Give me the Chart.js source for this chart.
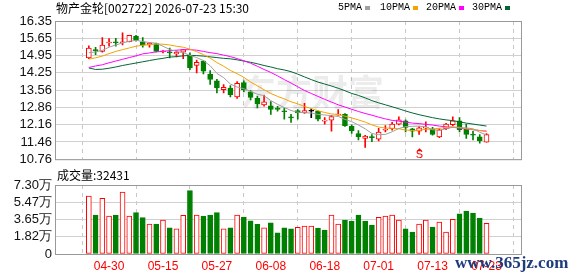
<!DOCTYPE html>
<html><head><meta charset="utf-8">
<script src="https://cdn.jsdelivr.net/npm/chart.js@4.4.1/dist/chart.umd.min.js"></script>
<style>
body{margin:0;background:#fff;}
#wrap{position:relative;width:578px;height:276px;overflow:hidden;background:#fff;}
canvas{position:absolute;left:0;}
.t{position:absolute;white-space:nowrap;line-height:14px;}
.sq{position:absolute;width:5px;height:4px;}
</style></head>
<body><div id="wrap">
<canvas id="k" width="578" height="170" style="top:0"></canvas>
<canvas id="v" width="578" height="106" style="top:170px"></canvas>
<div class="t" style="left:56px;top:1px;font-size:12px;font-family:'Noto Sans CJK SC';color:#000">物产金轮[002722] 2026-07-23 15:30</div>
<div class="t" style="left:338px;top:1px;font-size:10px;font-family:'Liberation Mono';color:#000">5PMA</div>
<div class="sq" style="left:365px;top:6px;background:#a0a0a0"></div>
<div class="t" style="left:380px;top:1px;font-size:10px;font-family:'Liberation Mono';color:#000">10PMA</div>
<div class="sq" style="left:413px;top:6px;background:#f5a300"></div>
<div class="t" style="left:426px;top:1px;font-size:10px;font-family:'Liberation Mono';color:#000">20PMA</div>
<div class="sq" style="left:459px;top:6px;background:#ff00ff"></div>
<div class="t" style="left:472px;top:1px;font-size:10px;font-family:'Liberation Mono';color:#000">30PMA</div>
<div class="sq" style="left:505px;top:6px;background:#006633"></div>
<div class="t" style="left:57px;top:168px;font-size:12px;font-family:'Noto Sans CJK SC';color:#000">成交量:32431</div>
<div class="t" style="left:455px;top:254px;font-size:17px;line-height:18px;font-weight:bold;font-family:'Liberation Serif';color:#1f3c7c">www.365jz.com</div>
</div>
<script>
const dates = ['04-27','04-28','04-29','04-30','05-06','05-07','05-08','05-09','05-12','05-13','05-14','05-15','05-16','05-19','05-20','05-21','05-22','05-23','05-26','05-27','05-28','05-29','05-30','06-03','06-04','06-05','06-06','06-08','06-09','06-10','06-11','06-12','06-13','06-16','06-17','06-18','06-19','06-20','06-23','06-24','06-25','06-26','06-27','07-01','07-02','07-03','07-04','07-07','07-08','07-09','07-10','07-13','07-14','07-15','07-16','07-17','07-18','07-21','07-22','07-23'];
const open  = [14.86,15.17,15.12,15.46,15.49,15.47,15.51,15.74,15.51,15.38,15.44,15.10,15.08,15.02,15.09,14.96,14.55,14.73,14.19,13.93,13.57,13.64,13.28,13.86,13.48,13.22,12.96,12.92,12.83,12.70,12.45,12.73,12.63,12.70,12.70,12.30,12.34,12.54,12.57,12.09,11.80,11.60,11.65,11.57,11.93,11.99,12.18,12.31,11.99,11.89,12.02,11.99,11.66,11.99,12.16,12.31,11.99,11.74,11.66,11.45];
const high  = [15.35,15.29,15.68,15.64,15.65,15.87,15.77,15.77,15.68,15.48,15.46,15.15,15.25,15.14,15.20,15.06,14.77,14.75,14.34,13.99,13.78,13.74,13.90,13.93,13.54,13.31,13.35,13.09,12.90,12.83,12.57,12.77,13.02,12.79,12.72,12.44,12.53,12.77,12.61,12.15,11.92,11.73,11.76,12.01,12.12,12.25,12.47,12.35,12.01,12.08,12.27,12.05,11.99,12.21,12.47,12.44,12.18,11.89,11.76,11.80];
const low   = [14.83,14.99,15.09,15.33,15.33,15.38,15.50,15.53,15.29,15.29,15.10,15.06,14.86,14.90,14.83,14.38,14.25,14.21,13.78,13.44,13.44,13.28,13.22,13.48,13.16,12.83,12.90,12.57,12.70,12.38,12.25,12.38,12.61,12.44,12.31,12.18,11.89,12.54,12.09,11.80,11.54,11.24,11.47,11.50,11.86,11.93,12.15,11.86,11.66,11.76,11.86,11.73,11.63,11.95,12.12,11.86,11.60,11.54,11.41,11.45];
const close = [15.25,15.15,15.38,15.48,15.47,15.49,15.77,15.57,15.38,15.45,15.12,15.13,15.06,15.08,15.19,14.45,14.68,14.32,13.99,13.64,13.67,13.37,13.83,13.57,13.26,13.00,13.08,12.77,12.77,12.68,12.43,12.63,12.73,12.70,12.38,12.32,12.48,12.56,12.12,11.90,11.66,11.70,11.63,11.86,11.96,12.18,12.35,12.05,11.89,12.03,12.04,11.76,11.95,12.18,12.31,11.95,11.76,11.73,11.51,11.76];
const ma5   = [15.07,15.10,15.16,15.29,15.38,15.46,15.53,15.57,15.52,15.48,15.45,15.33,15.20,15.12,15.07,14.96,14.87,14.75,14.54,14.23,14.06,13.80,13.68,13.61,13.50,13.39,13.33,13.13,12.98,12.85,12.73,12.66,12.64,12.63,12.57,12.55,12.52,12.49,12.37,12.28,12.14,11.99,11.80,11.75,11.76,11.87,12.00,12.08,12.09,12.10,12.07,11.95,11.93,11.99,12.05,12.03,12.03,11.99,11.85,11.74];
const ma10  = [14.81,14.86,14.93,15.03,15.12,15.19,15.26,15.33,15.37,15.39,15.42,15.41,15.38,15.33,15.29,15.21,15.11,14.99,14.85,14.67,14.52,14.35,14.22,14.07,13.88,13.73,13.57,13.42,13.30,13.20,13.08,13.00,12.89,12.81,12.72,12.65,12.59,12.57,12.50,12.43,12.35,12.26,12.15,12.06,12.02,12.01,11.99,11.94,11.92,11.93,11.97,11.98,12.01,12.04,12.07,12.05,11.99,11.96,11.92,11.90];
const ma20  = [14.47,14.53,14.58,14.66,14.73,14.80,14.87,14.94,15.02,15.06,15.10,15.12,15.15,15.17,15.19,15.19,15.17,15.12,15.07,15.03,14.97,14.91,14.83,14.74,14.64,14.52,14.39,14.27,14.13,13.98,13.84,13.69,13.54,13.42,13.30,13.18,13.07,12.96,12.87,12.78,12.69,12.61,12.54,12.46,12.39,12.33,12.30,12.26,12.22,12.20,12.17,12.14,12.10,12.07,12.05,12.02,11.98,11.95,11.92,11.89];
const ma30  = [14.45,14.39,14.40,14.44,14.49,14.55,14.60,14.65,14.70,14.75,14.80,14.84,14.89,14.91,14.94,14.96,14.95,14.93,14.90,14.87,14.84,14.82,14.78,14.73,14.68,14.62,14.55,14.49,14.42,14.37,14.30,14.20,14.09,13.98,13.88,13.80,13.72,13.63,13.53,13.42,13.34,13.24,13.13,13.04,12.96,12.88,12.80,12.71,12.63,12.56,12.50,12.44,12.39,12.35,12.32,12.27,12.22,12.18,12.14,12.10];
const volume = [61400,41300,58900,40200,41300,65600,40200,43700,38400,31700,31700,36000,27800,26500,40900,67000,41300,40200,41300,43700,26500,27800,41300,39100,35200,31400,27800,33100,22500,27800,26500,28200,29600,29600,27500,25400,41300,31700,36000,34900,41300,34900,30700,38800,40200,41300,36000,26500,23300,31700,36000,28600,33900,23300,36700,42600,45500,43400,38100,32431];
const volUp = [1,0,1,1,0,1,1,0,0,1,0,1,0,1,1,0,1,0,0,0,1,0,1,0,0,0,1,0,0,0,0,1,1,1,0,0,1,1,0,0,0,0,0,1,1,1,1,0,0,1,1,0,1,1,1,0,0,0,0,1];
const priceTicks = [10.76,11.45875,12.1575,12.85625,13.555,14.25375,14.9525,15.65125,16.35];
const priceTickLabels = ['10.76','11.46','12.16','12.86','13.56','14.25','14.95','15.65','16.35'];
const volTicks = [0,18250,36500,54750,73000];
const volTickLabels = ['0','1.82万','3.65万','5.47万','7.30万'];
const xTickIdx = [3,11,19,27,35,43,51,59];
const xTickLabels = ['04-30','05-15','05-27','06-08','06-18','07-01','07-13','07-23'];
const signals = [{i:49, text:'S'}];

const RED='#ff0000', GREEN='#008000', GRID='#d0d0d0', FRAME='#999999';
const idx = dates.map((d,i)=>i);
const candleColor = i => close[i]>open[i] ? RED : (close[i]<open[i] ? GREEN : '#000000');
const XMIN=-0.7, XMAX=59.8;

const frame = {id:'frame', afterDraw(c){const a=c.chartArea,x=c.ctx;x.save();x.strokeStyle=FRAME;x.lineWidth=1;x.strokeRect(a.left+0.5,a.top+0.5,a.right-a.left,a.bottom-a.top);x.restore();}};
const wm = {id:'wm', beforeDatasetsDraw(c){const x=c.ctx;x.save();x.fillStyle='rgba(0,0,0,0.075)';x.font="bold 36px 'Noto Sans CJK SC'";x.textBaseline='middle';x.fillText('东方财富',240,92);x.restore();}};
const sig = {id:'sig', afterDatasetsDraw(c){const x=c.ctx,s=c.scales.x,a=c.chartArea;x.save();x.fillStyle=RED;
  signals.forEach(g=>{const px=Math.round(s.getPixelForValue(g.i))+0.5;x.beginPath();x.moveTo(px,a.bottom-11);x.lineTo(px-3,a.bottom-8);x.lineTo(px+3,a.bottom-8);x.closePath();x.fill();
  x.font="11px 'Liberation Sans'";x.textAlign='center';x.textBaseline='bottom';x.fillText(g.text,px,a.bottom+1);});x.restore();}};

const xScale = (showLabels)=>({type:'linear',min:XMIN,max:XMAX,
  afterBuildTicks:s=>{s.ticks=xTickIdx.map(v=>({value:v}));},
  ticks:{display:showLabels,autoSkip:false,maxRotation:0,color:RED,font:{family:'Liberation Sans',size:12},padding:5,
    callback:(v,i)=>xTickLabels[i]},
  grid:{color:'#c8c8c8',drawTicks:false},
  border:{display:false,dash:[4,4]},
  afterFit:s=>{s.height=showLabels?22:0;}});

Chart.defaults.animation=false;
new Chart(document.getElementById('k'),{
  type:'bar',
  data:{datasets:[
    {type:'line',label:'5PMA',data:idx.map(i=>({x:i,y:ma5[i]})),borderColor:'#a0a0a0',borderWidth:1,pointRadius:0,order:0},
    {type:'line',label:'10PMA',data:idx.map(i=>({x:i,y:ma10[i]})),borderColor:'#f5a300',borderWidth:1,pointRadius:0,order:0},
    {type:'line',label:'20PMA',data:idx.map(i=>({x:i,y:ma20[i]})),borderColor:'#ff00ff',borderWidth:1,pointRadius:0,order:0},
    {type:'line',label:'30PMA',data:idx.map(i=>({x:i,y:ma30[i]})),borderColor:'#006633',borderWidth:1,pointRadius:0,order:0},
    {type:'bar',label:'body',data:idx.map(i=>({x:i,y:[open[i],close[i]]})),grouped:false,barThickness:5,minBarLength:1,
      backgroundColor:idx.map(i=>close[i]>open[i]?'#ffffff':candleColor(i)),borderColor:idx.map(candleColor),borderWidth:1,borderSkipped:false,order:5},
    {type:'bar',label:'wick',data:idx.map(i=>({x:i,y:[low[i],high[i]]})),grouped:false,barThickness:1,
      backgroundColor:idx.map(candleColor),order:6}
  ]},
  options:{responsive:false,devicePixelRatio:1,animation:false,
    layout:{padding:{left:0,right:57,top:21,bottom:6}},
    plugins:{legend:{display:false},tooltip:{enabled:false}},
    scales:{x:xScale(false),
      y:{type:'linear',min:10.76,max:16.35,
        afterBuildTicks:s=>{s.ticks=priceTicks.map(v=>({value:v}));},
        ticks:{autoSkip:false,color:'#111',font:{family:'Liberation Sans',size:13},padding:3,callback:(v,i)=>priceTickLabels[i]},
        grid:{color:GRID,drawTicks:false},border:{display:false},
        afterFit:s=>{s.width=55;}}}},
  plugins:[wm,frame,sig]
});
new Chart(document.getElementById('v'),{
  type:'bar',
  data:{datasets:[
    {label:'vol',data:idx.map(i=>({x:i,y:volume[i]})),grouped:false,barThickness:5,
      backgroundColor:idx.map(i=>volUp[i]?'#ffffff':GREEN),borderColor:idx.map(i=>volUp[i]?RED:GREEN),borderWidth:1,borderSkipped:false}
  ]},
  options:{responsive:false,devicePixelRatio:1,animation:false,
    layout:{padding:{left:0,right:57,top:15,bottom:0}},
    plugins:{legend:{display:false},tooltip:{enabled:false}},
    scales:{x:xScale(true),
      y:{type:'linear',min:0,max:73000,
        afterBuildTicks:s=>{s.ticks=volTicks.map(v=>({value:v}));},
        ticks:{autoSkip:false,color:'#111',font:{family:'Liberation Sans',size:13},padding:3,callback:(v,i)=>volTickLabels[i]},
        grid:{color:GRID,drawTicks:false},border:{display:false},
        afterFit:s=>{s.width=55;}}}},
  plugins:[frame]
});
</script></body></html>
